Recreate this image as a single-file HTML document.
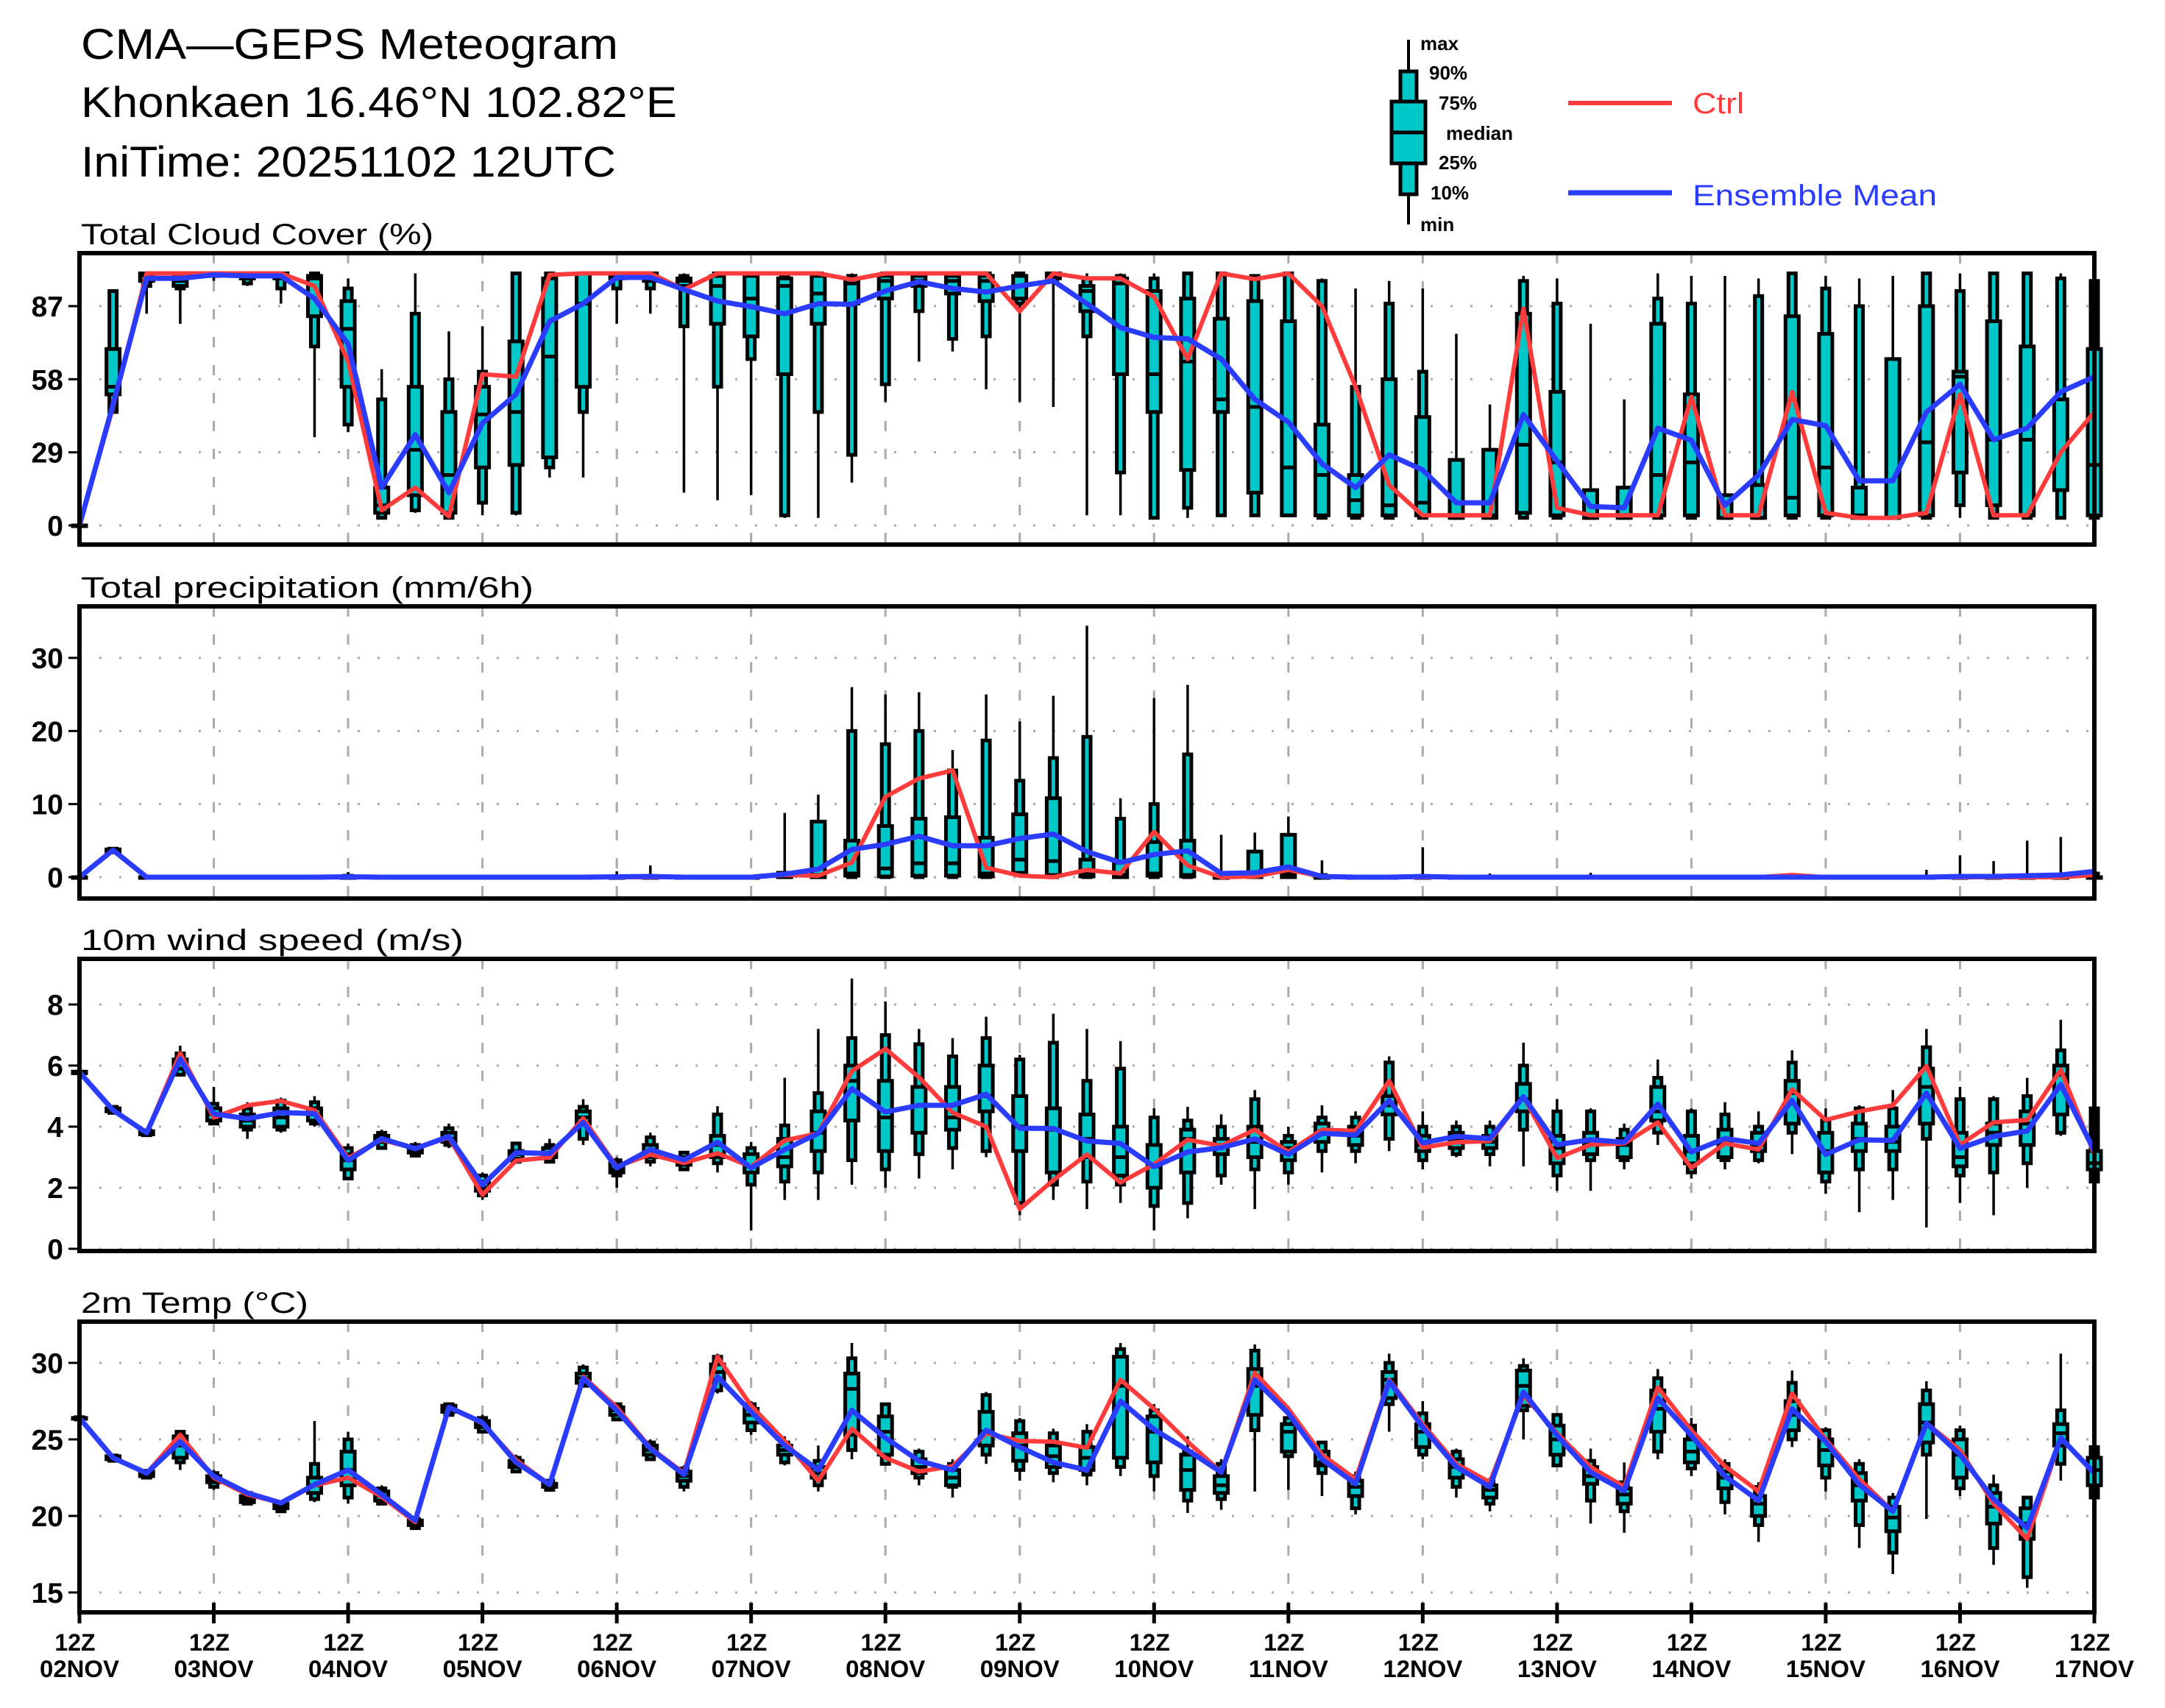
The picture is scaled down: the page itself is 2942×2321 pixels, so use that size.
<!DOCTYPE html>
<html><head><meta charset="utf-8"><title>CMA-GEPS Meteogram</title>
<style>
html,body{margin:0;padding:0;background:#fff;}
svg{display:block;font-family:"Liberation Sans",sans-serif;}
</style></head>
<body>
<svg id="chart" width="2942" height="2321" viewBox="0 0 2942 2321" xmlns="http://www.w3.org/2000/svg">
<rect x="0" y="0" width="2942" height="2321" fill="#fff"/>
<text x="110" y="80" font-size="58" textLength="730" lengthAdjust="spacingAndGlyphs">CMA—GEPS Meteogram</text>
<text x="110" y="159" font-size="58" textLength="810" lengthAdjust="spacingAndGlyphs">Khonkaen 16.46°N 102.82°E</text>
<text x="110" y="240" font-size="58" textLength="727" lengthAdjust="spacingAndGlyphs">IniTime: 20251102 12UTC</text>
<g id="legend">
<line x1="1914" y1="54" x2="1914" y2="305" stroke="#000" stroke-width="4"/>
<rect x="1903" y="97" width="22" height="167" fill="#00c8c8" stroke="#000" stroke-width="5"/>
<rect x="1891" y="138" width="46" height="84" fill="#00c8c8" stroke="#000" stroke-width="5"/>
<line x1="1891" y1="180" x2="1937" y2="180" stroke="#000" stroke-width="5"/>
<g font-size="26" font-weight="bold">
<text x="1930" y="68">max</text>
<text x="1942" y="108">90%</text>
<text x="1955" y="149">75%</text>
<text x="1965" y="190">median</text>
<text x="1955" y="230">25%</text>
<text x="1944" y="271">10%</text>
<text x="1930" y="314">min</text>
</g>
<line x1="2131" y1="140" x2="2272" y2="140" stroke="#ff3b3b" stroke-width="6"/>
<text x="2300" y="154" font-size="40" fill="#ff3b3b" textLength="70" lengthAdjust="spacingAndGlyphs">Ctrl</text>
<line x1="2131" y1="262" x2="2272" y2="262" stroke="#2a3cff" stroke-width="7"/>
<text x="2300" y="279" font-size="40" fill="#2a3cff" textLength="332" lengthAdjust="spacingAndGlyphs">Ensemble Mean</text>
</g>
</svg>
<script>
// ---------- Cloud cover (%) ----------
const cloudCtrl=[0,47,100,100,100,100,100,95,65,6,15,3.6,60,59,99.4,100,100,100,93.6,100,100,100,100,97.5,100,100,100,100,85,100,98,98,90.7,66,100,97.7,100,87,55,16,4,4,4,86,7,4,4,4,51,4,4,53,5,3,3,5,52,4,4,29,45];
const cloudMean=[0,48,98,98,99.4,99,99,90,72,15,36,13,40.6,52,81,88,98.4,98.4,93.6,89,86.8,84,88,87.7,93,96.7,94,92.6,95,97,88,78.5,74.6,74,66,50,41,24.5,15,28,22,9,9,44,25.5,7.5,7,38.6,33.8,8,20,42,39.6,17.7,17.7,45,56,34,38.6,53,59];
const cloudMax=[0,93,100,100,100,100,100,100,98,62,100,77,79,100,100,100,100,100,100,100,100,100,100,100,100,100,100,100,100,100,100,100,100,100,100,99,100,98,94,97,94,76,48,99,98,80,50,100,99,99,98,100,99,98,99,100,100,100,100,100,100];
const cloudP90=[0,93,100,99,100,100,100,100,94,50,84,58,61,100,100,100,100,100,99,100,100,99,100,99,100,100,100,100,100,100,98,99,98,100,100,99,100,97,55,88,61,26,30,97,88,14,15,90,88,12,91,100,94,87,66,100,93,100,100,98,97];
const cloudP75=[0,70,100,99,100,99,100,99,89,15,55,45,55,73,98,100,100,100,98,99,99,98,99,98,99,99,99,99,99,100,95,98,93,90,82,89,81,40,20,58,43,26,30,84,53,14,15,80,52,12,16,83,76,15,66,87,61,81,71,50,70];
const cloudMed=[0,55,99,97,99,99,100,98,78,8,30,20,44,45,67,88,99,99,97,95,90,95,92,96,97,97,97,97,95,99,93,96,60,65,50,47,23,20,10,8,9,3,4,32,25,3,3,20,25,3,3,11,23,4,3,33,59,34,34,14,24];
const cloudP25=[0,52,97,95,99,98,98,83,55,5,12,5,23,24,27,55,98,97,95,80,75,60,80,88,90,95,92,89,90,98,85,60,45,22,45,13,4,4,4,4,4,3,3,5,4,3,3,4,4,3,3,4,4,3,3,4,21,8,4,14,4];
const cloudP10=[0,45,95,94,99,96,94,71,40,3,6,3,9,5,23,45,94,94,79,55,66,4,45,28,56,85,74,75,88,97,75,21,3,7,4,4,4,3,3,3,3,3,3,3,3,3,3,3,3,3,3,3,3,3,3,3,8,3,3,3,3];
const cloudMin=[0,45,84,80,97,95,88,35,37,3,5,3,4,4,19,19,80,84,13,10,12,3,3,17,49,65,69,54,49,47,4,4,3,3,4,4,4,3,3,3,3,3,3,3,3,3,3,3,3,3,3,3,3,3,3,3,3,3,3,3,3];
const cloudTicks=[0,29,58,87];
// ---------- Precipitation (mm/6h) ----------
const precCtrl=[0,3.7,0,0,0,0,0,0,0,0,0,0,0,0,0,0,0,0,0,0,0,0.3,0.2,2,11,13.5,14.6,1.3,0.2,0,1,0.5,6.2,1.6,0,0.1,1,0.1,0,0,0,0,0,0,0,0,0,0,0,0,0,0.3,0,0,0,0,0,0,0,0,0.3];
const precMean=[0,3.7,0,0,0,0,0,0,0.05,0,0,0,0,0,0,0,0.05,0.1,0,0,0,0.4,1.1,3.8,4.5,5.6,4.3,4.3,5.3,5.9,3.5,2,3.1,3.6,0.5,0.6,1.4,0.1,0,0,0.1,0,0,0,0,0,0,0,0,0,0,0,0,0,0,0,0.1,0.1,0.2,0.3,0.8];
const precMax=[0,4,0,0,0,0,0,0.3,0.7,0,0,0,0,0,0,0,0.8,1.6,0,0,0,8.8,11.3,26,25,25.3,17.4,25,21.3,24.8,34.4,10.8,24.5,26.3,5.8,6.1,8.3,2.3,0,0,4.1,0,0.5,0,0,0.6,0,0.3,0,0,0,0.3,0,0,0,1,3,2.2,5,5.5,1.2];
const precP90=[0,3.9,0,0,0,0,0,0,0.2,0,0,0,0,0,0,0,0,0,0,0,0,0.6,7.6,20,18.2,20,14.6,18.7,13.2,16.3,19.2,8,10,16.8,0.3,3.5,5.8,0.3,0,0,0,0,0,0,0,0,0,0,0,0,0,0,0,0,0,0,0,0,0,0,0.5];
const precP75=[0,3.8,0,0,0,0,0,0,0,0,0,0,0,0,0,0,0,0,0,0,0,0.6,7.6,5,7,8,8.2,5.4,8.6,10.8,2.4,2,4.8,5,0,3.5,5.8,0,0,0,0,0,0,0,0,0,0,0,0,0,0,0,0,0,0,0,0,0,0,0,0];
const precMed=[0,3.7,0,0,0,0,0,0,0,0,0,0,0,0,0,0,0,0,0,0,0,0,0.3,0.5,1.2,1.9,1.9,0.5,2.4,2.2,0.5,0.3,0.5,0.3,0,0,0.5,0,0,0,0,0,0,0,0,0,0,0,0,0,0,0,0,0,0,0,0,0,0,0,0];
const precP25=[0,3.5,0,0,0,0,0,0,0,0,0,0,0,0,0,0,0,0,0,0,0,0,0,0.2,0.1,0.2,0.2,0.1,0.6,0.3,0.1,0,0.2,0.1,0,0,0,0,0,0,0,0,0,0,0,0,0,0,0,0,0,0,0,0,0,0,0,0,0,0,0];
const precP10=[0,3.4,0,0,0,0,0,0,0,0,0,0,0,0,0,0,0,0,0,0,0,0,0,0,0,0,0,0,0.3,0,0,0,0,0,0,0,0,0,0,0,0,0,0,0,0,0,0,0,0,0,0,0,0,0,0,0,0,0,0,0,0];
const precMin=[0,3.3,0,0,0,0,0,0,0,0,0,0,0,0,0,0,0,0,0,0,0,0,0,0,0,0,0,0,0,0,0,0,0,0,0,0,0,0,0,0,0,0,0,0,0,0,0,0,0,0,0,0,0,0,0,0,0,0,0,0,0];
const precTicks=[0,10,20,30];
// ---------- 10m wind speed (m/s) ----------
const windCtrl=[5.78,4.54,3.8,6.4,4.3,4.7,4.84,4.54,2.97,3.57,3.28,3.65,1.77,2.89,2.99,4.27,2.69,3.09,2.81,3.13,2.69,3.55,3.78,5.82,6.55,5.62,4.46,4.0,1.3,2.25,3.09,2.17,2.77,3.57,3.37,3.9,3.17,3.9,3.86,5.5,3.31,3.49,3.53,4.98,2.97,3.41,3.45,4.14,2.65,3.45,3.25,5.22,4.22,4.5,4.7,5.98,3.41,4.14,4.22,5.86,3.09];
const windMean=[5.78,4.54,3.8,6.22,4.42,4.26,4.46,4.43,2.89,3.61,3.28,3.68,2.09,3.15,3.12,4.14,2.65,3.25,2.91,3.49,2.65,3.25,3.78,5.24,4.48,4.7,4.7,5.06,3.95,3.94,3.53,3.45,2.69,3.17,3.31,3.6,3.09,3.78,3.73,4.86,3.47,3.68,3.61,4.98,3.41,3.57,3.49,4.74,3.17,3.61,3.45,4.86,3.09,3.57,3.55,5.1,3.29,3.68,3.86,5.38,3.21];
const windMax=[5.85,4.7,3.9,6.65,5.3,4.8,4.95,5.0,3.45,3.9,3.5,4.1,2.5,3.5,3.6,4.9,3.0,3.8,3.2,4.67,3.5,5.6,7.2,8.85,8.1,7.2,6.9,7.6,6.35,7.7,7.2,6.8,4.6,4.65,4.4,5.2,4.0,4.7,4.5,6.3,4.5,4.2,4.2,6.75,4.9,4.6,4.1,6.2,4.6,4.8,4.5,6.5,4.6,4.7,5.2,7.2,5.3,5.0,5.6,7.5,4.7];
const windP90=[5.8,4.65,3.88,6.4,4.75,4.6,4.85,4.8,3.3,3.8,3.4,3.95,2.4,3.45,3.4,4.65,2.9,3.65,3.15,4.4,3.3,4.04,5.1,6.9,7.0,6.7,6.3,6.9,6.2,6.75,5.5,5.9,4.3,4.2,4.0,4.9,3.7,4.3,4.3,6.1,4.0,4.0,4.0,6.0,4.5,4.5,3.9,5.6,4.5,4.4,4.0,6.1,4.2,4.6,4.6,6.6,4.9,4.9,5.0,6.5,4.6];
const windP75=[5.8,4.6,3.85,6.2,4.6,4.4,4.6,4.6,3.1,3.7,3.35,3.8,2.2,3.2,3.3,4.5,2.8,3.4,3.0,3.7,3.1,3.6,4.5,6.0,5.5,5.3,5.3,6.0,5.0,4.6,4.4,4.0,3.4,3.9,3.6,4.0,3.5,4.1,4.0,5.0,3.7,3.8,3.7,5.4,3.7,3.8,3.6,5.3,3.7,3.9,3.8,5.5,3.8,4.1,4.0,5.9,3.8,4.1,4.5,6.0,3.2];
const windMed=[5.78,4.55,3.8,6.1,4.4,4.2,4.3,4.4,2.9,3.6,3.25,3.6,2.0,3.1,3.1,4.3,2.6,3.2,2.85,3.4,2.7,3.0,3.8,5.5,4.3,4.7,4.3,5.0,4.0,3.9,3.6,3.0,2.7,3.6,3.4,3.5,3.3,3.8,3.7,4.7,3.4,3.6,3.5,4.9,3.3,3.5,3.4,4.5,3.2,3.5,3.4,5.1,3.2,3.6,3.5,5.3,3.0,3.8,4.1,5.7,2.8];
const windP25=[5.75,4.5,3.75,5.9,4.2,4.0,4.0,4.2,2.6,3.5,3.15,3.5,1.9,2.95,3.0,4.1,2.5,3.0,2.75,3.0,2.5,2.7,3.2,4.2,3.2,3.8,3.9,4.5,3.2,2.5,3.0,2.4,2.0,2.5,3.1,3.0,2.9,3.5,3.4,4.4,3.2,3.3,3.3,4.5,2.8,3.1,3.0,4.2,2.8,3.0,3.2,4.1,2.5,3.2,3.2,4.1,2.7,3.4,3.4,4.4,2.6];
const windP10=[5.75,4.45,3.72,5.7,4.1,3.9,3.9,4.1,2.3,3.3,3.05,3.4,1.75,2.85,2.85,3.6,2.4,2.85,2.6,2.8,2.1,2.2,2.5,2.9,2.6,3.1,3.3,3.2,1.5,2.1,2.2,2.1,1.4,1.5,2.4,2.6,2.5,3.2,3.2,3.6,2.9,3.1,3.1,3.9,2.4,2.9,2.9,3.8,2.5,2.9,2.9,3.8,2.2,2.6,2.6,3.6,2.4,2.5,2.8,3.8,2.2];
const windMin=[5.7,4.4,3.7,5.7,4.1,3.6,3.8,4.0,2.3,3.3,3.0,3.3,1.6,2.8,2.8,3.4,2.0,2.7,2.6,2.5,0.6,1.6,1.6,2.1,2.0,2.3,2.6,3.0,1.1,1.6,1.3,1.5,0.6,1.0,2.1,1.3,2.1,2.5,2.8,3.2,2.6,3.0,2.7,2.7,1.9,1.9,2.6,3.4,2.3,2.6,2.8,3.1,1.8,1.2,1.6,0.7,1.5,1.1,2.0,3.7,2.1];
const windTicks=[0,2,4,6,8];
// ---------- 2m temperature (°C) ----------
const tempCtrl=[26.4,23.8,22.8,25.3,22.5,21.4,20.85,22.0,22.5,21.25,19.6,27.1,26.06,23.65,22.05,29.1,27.1,24.45,22.8,30.4,27.2,24.9,22.3,25.7,23.8,22.9,23.25,25.4,24.9,24.85,24.45,28.9,27.0,24.85,22.85,29.35,27.0,24.0,22.4,28.9,26.0,23.4,22.2,27.9,25.4,23.2,21.9,28.4,25.6,23.25,21.6,28.0,25.0,22.4,20.3,26.06,24.3,20.8,18.5,25.1,22.8];
const tempMean=[26.4,23.8,22.8,24.85,22.6,21.5,20.85,22.05,23.0,21.4,19.7,27.1,26.1,23.5,22.05,29.0,26.9,24.4,22.7,29.1,26.8,24.6,23.0,26.9,25.1,23.6,23.0,25.6,24.5,23.5,23.0,27.5,25.65,24.3,22.85,28.9,26.7,23.7,22.1,28.8,25.8,23.2,21.9,28.1,25.25,22.85,21.65,27.7,25.25,22.6,21.0,27.0,24.85,22.05,20.3,26.06,24.0,21.1,19.2,25.1,22.8];
const tempMax=[26.5,24.0,23.0,25.6,23.0,21.6,21.0,26.2,25.5,22.0,19.9,27.4,26.6,24.0,22.4,29.9,27.4,25.0,23.3,30.6,27.5,25.2,24.6,31.3,27.4,24.4,23.7,28.1,26.4,25.7,26.0,31.3,27.3,25.2,23.7,31.2,26.6,24.8,22.9,30.6,27.5,24.4,22.5,30.3,26.7,24.4,23.5,29.6,26.4,23.7,22.2,29.5,25.8,23.7,21.5,28.8,25.9,22.7,21.3,30.6,25.0];
const tempP90=[26.45,23.95,22.95,25.5,22.8,21.5,20.9,23.4,25.0,21.8,19.8,27.3,26.4,23.8,22.3,29.7,27.3,24.8,23.1,30.4,27.3,24.8,23.6,30.3,27.3,24.2,23.4,27.9,26.2,25.4,25.5,30.9,26.9,24.2,23.4,30.8,26.4,24.8,22.6,30.0,26.7,24.2,22.3,29.8,26.6,23.6,22.2,29.0,25.9,23.4,21.9,28.7,25.6,23.4,21.2,28.2,25.6,22.0,21.2,26.9,24.5];
const tempP75=[26.4,23.9,22.9,25.2,22.6,21.3,20.8,22.5,24.2,21.6,19.7,27.2,26.2,23.6,22.1,29.3,27.1,24.6,22.9,29.9,27.0,24.6,23.2,29.3,26.5,23.7,23.0,26.8,25.4,24.6,24.5,30.4,26.5,24.0,22.6,29.6,26.0,24.2,22.3,29.4,26.0,23.7,22.0,29.5,25.9,23.2,21.8,28.2,25.0,22.9,21.3,27.5,25.0,22.8,20.6,27.3,25.0,21.5,20.5,26.0,23.8];
const tempMed=[26.4,23.8,22.8,24.6,22.4,21.1,20.6,22.0,23.0,21.3,19.5,27.0,26.0,23.4,22.0,29.0,26.9,24.3,22.6,29.4,26.6,24.3,22.8,28.3,25.5,23.2,22.5,25.5,24.6,23.9,23.8,28.5,25.5,23.0,22.0,28.5,25.5,23.5,21.9,28.9,25.5,23.2,21.7,28.5,25.0,22.6,21.4,27.0,24.2,22.5,20.8,26.6,24.3,22.0,19.9,26.1,24.0,20.6,19.5,25.4,23.0];
const tempP25=[26.35,23.7,22.6,23.8,22.2,20.9,20.5,21.5,22.0,21.0,19.4,26.8,25.8,23.2,21.9,28.7,26.6,24.0,22.3,28.9,26.1,24.0,22.5,25.3,24.0,22.8,22.0,24.6,23.6,23.2,23.0,23.8,23.5,21.7,21.5,26.6,24.2,23.3,21.3,27.7,24.5,22.5,21.2,27.2,24.0,22.1,20.8,25.5,23.5,21.8,20.0,25.6,23.3,21.0,19.0,24.8,22.5,19.5,18.5,24.6,22.0];
const tempP10=[26.3,23.6,22.5,23.5,21.9,20.8,20.3,21.1,21.2,20.8,19.2,26.6,25.5,22.9,21.7,28.5,26.3,23.7,21.9,28.2,25.6,23.5,22.0,24.3,23.4,22.5,21.9,24.0,23.0,22.8,22.7,23.2,22.6,21.0,21.1,25.6,23.9,22.8,20.5,27.3,24.0,21.9,20.8,26.9,23.3,21.0,20.3,24.2,23.1,20.9,19.4,25.0,22.5,19.4,17.6,24.0,21.8,17.9,16.0,23.4,21.2];
const tempMin=[26.3,23.5,22.4,23.0,21.7,20.7,20.3,20.9,20.8,20.7,19.1,26.5,25.4,22.8,21.6,28.4,26.2,23.6,21.6,28.0,25.3,23.3,21.6,23.7,23.3,22.0,21.2,23.4,22.3,22.2,22.0,22.6,21.6,20.2,20.4,21.6,21.7,21.3,20.1,25.5,23.7,21.2,20.3,25.0,23.2,19.5,18.9,23.7,22.6,20.1,18.3,24.5,21.6,17.9,16.2,19.8,21.3,16.8,15.3,22.3,20.8];
const tempTicks=[15,20,25,30];
const dayLabels=["02NOV","03NOV","04NOV","05NOV","06NOV","07NOV","08NOV","09NOV","10NOV","11NOV","12NOV","13NOV","14NOV","15NOV","16NOV","17NOV"];

const NS="http://www.w3.org/2000/svg";
const svg=document.getElementById('chart');
const X0=108,X1=2846,NSTEP=60;
function xPos(i){return X0+i*(X1-X0)/NSTEP;}
function mk(tag,attrs,parent){const e=document.createElementNS(NS,tag);for(const k in attrs)e.setAttribute(k,attrs[k]);(parent||svg).appendChild(e);return e;}

const panels=[
 {key:'cloud',title:'Total Cloud Cover (%)',tw:479,top:344,bot:740,v0:0,y0:714,v1:87,y1:416,ticks:cloudTicks,ctrl:cloudCtrl,mean:cloudMean,mx:cloudMax,p90:cloudP90,p75:cloudP75,med:cloudMed,p25:cloudP25,p10:cloudP10,mn:cloudMin},
 {key:'precip',title:'Total precipitation (mm/6h)',tw:615,top:824,bot:1221,v0:0,y0:1192,v1:30,y1:894,ticks:precTicks,ctrl:precCtrl,mean:precMean,mx:precMax,p90:precP90,p75:precP75,med:precMed,p25:precP25,p10:precP10,mn:precMin},
 {key:'wind',title:'10m wind speed (m/s)',tw:520,top:1303,bot:1700,v0:0,y0:1697,v1:8,y1:1365,ticks:windTicks,ctrl:windCtrl,mean:windMean,mx:windMax,p90:windP90,p75:windP75,med:windMed,p25:windP25,p10:windP10,mn:windMin},
 {key:'temp',title:'2m Temp (°C)',tw:309,top:1796,bot:2191,v0:15,y0:2164,v1:30,y1:1852,ticks:tempTicks,ctrl:tempCtrl,mean:tempMean,mx:tempMax,p90:tempP90,p75:tempP75,med:tempMed,p25:tempP25,p10:tempP10,mn:tempMin}
];

panels.forEach(function(p){
  const yPos=function(v){return p.y0+(v-p.v0)*(p.y1-p.y0)/(p.v1-p.v0);};
  const g=mk('g',{});
  
  
  const t=mk('text',{x:110,y:p.top-12,'font-size':40,textLength:p.tw,lengthAdjust:'spacingAndGlyphs'},g);
  t.textContent=p.title;
  
  
  p.ticks.forEach(function(v){
    const y=yPos(v);
    const gl=mk('line',{x1:X0,y1:y,x2:X1,y2:y,stroke:'#aaa','stroke-width':3,'stroke-dasharray':'3 24'},g);
    
    
    const tk=mk('line',{x1:93,y1:y,x2:X0,y2:y,stroke:'#000','stroke-width':3},g);
    
    
    const tl=mk('text',{x:86,y:y+14,'font-size':39,'font-weight':'bold','text-anchor':'end'},g);
    tl.textContent=String(v);
    
    
  });
  for(let d=1;d<dayLabels.length-1;d++){
    const x=xPos(d*4);
    const vl=mk('line',{x1:x,y1:p.top,x2:x,y2:p.bot,stroke:'#aaa','stroke-width':3,'stroke-dasharray':'14 24'},g);
    
    
  }
  for(let i=0;i<p.mx.length;i++){
    const x=xPos(i);
    const bg=mk('g',{},g);
    
    
    mk('line',{x1:x,y1:yPos(p.mn[i]),x2:x,y2:yPos(p.mx[i]),stroke:'#000','stroke-width':3.5},bg);
    const a=yPos(p.p90[i]),b=yPos(p.p10[i]);
    mk('rect',{x:x-5,y:a,width:10,height:Math.max(b-a,1),fill:'#00c8c8',stroke:'#000','stroke-width':5},bg);
    const c=yPos(p.p75[i]),d=yPos(p.p25[i]);
    mk('rect',{x:x-9,y:c,width:18,height:Math.max(d-c,1),fill:'#00c8c8',stroke:'#000','stroke-width':5},bg);
    const m=yPos(p.med[i]);
    mk('line',{x1:x-9,y1:m,x2:x+9,y2:m,stroke:'#000','stroke-width':5},bg);
  }
  const ptsC=p.ctrl.map(function(v,i){return xPos(i).toFixed(1)+','+yPos(v).toFixed(1);}).join(' ');
  const lc=mk('polyline',{points:ptsC,fill:'none',stroke:'#ff3b3b','stroke-width':6,'stroke-linejoin':'round'},g);
  
  
  const ptsM=p.mean.map(function(v,i){return xPos(i).toFixed(1)+','+yPos(v).toFixed(1);}).join(' ');
  const lm=mk('polyline',{points:ptsM,fill:'none',stroke:'#2a3cff','stroke-width':7,'stroke-linejoin':'round'},g);
  
  
  const fr=mk('rect',{x:X0,y:p.top,width:X1-X0,height:p.bot-p.top,fill:'none',stroke:'#000','stroke-width':6},g);
  
  
});

for(let d=0;d<dayLabels.length;d++){
  const x=xPos(d*4);
  const tk=mk('line',{x1:x,y1:2178,x2:x,y2:2206,stroke:'#000','stroke-width':5});
  
  
  const t1=mk('text',{x:x-6,y:2243,'font-size':32,'font-weight':'bold','text-anchor':'middle'});
  t1.textContent='12Z';
  
  
  const t2=mk('text',{x:x,y:2279,'font-size':32,'font-weight':'bold','text-anchor':'middle',textLength:108,lengthAdjust:'spacingAndGlyphs'});
  t2.textContent=dayLabels[d];
  
  
}
</script>
</body></html>
